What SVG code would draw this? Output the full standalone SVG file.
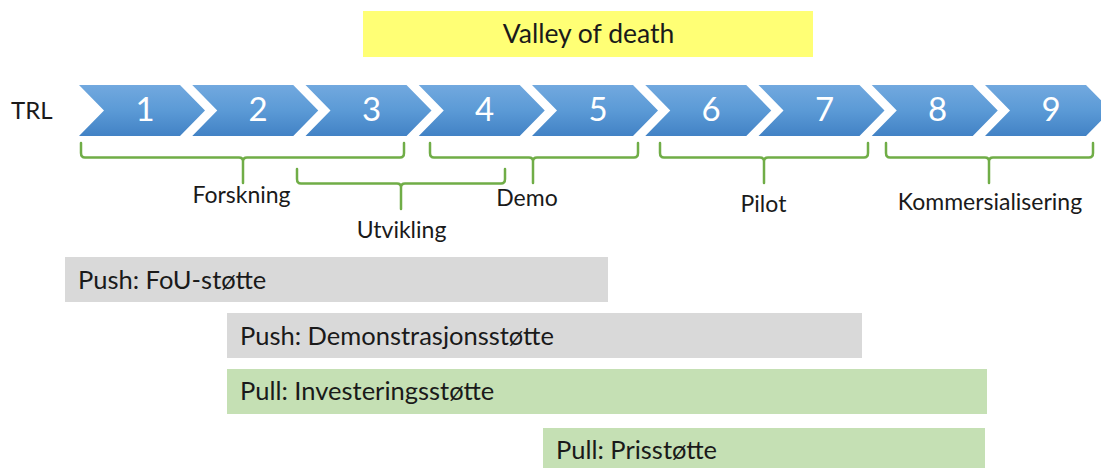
<svg xmlns="http://www.w3.org/2000/svg" width="1101" height="468" viewBox="0 0 1101 468">
  <defs>
    <linearGradient id="chevFill" x1="0" y1="0" x2="0" y2="1">
      <stop offset="0" stop-color="#72a9df"/>
      <stop offset="0.5" stop-color="#5b9ad6"/>
      <stop offset="1" stop-color="#4282c5"/>
    </linearGradient>
    <!-- one TRL step: flat back with notch, pointed front -->
    <polygon id="chev" points="0,85 101,85 126,110.5 101,136 0,136 25,110.5"/>
  </defs>
  <style>
    text { font-family: Lato, "Liberation Sans", sans-serif; fill: #1a1a1a; }
    .chev { fill: url(#chevFill); }
    .num { fill: #ffffff; font-size: 33px; text-anchor: middle; }
    .brace { fill: none; stroke: #70ad47; stroke-width: 2.5; stroke-linejoin: round; stroke-linecap: round; }
    .lbl { font-size: 23px; text-anchor: middle; }
    .bar-text { font-size: 25.5px; }
    .push { fill: #d9d9d9; }
    .pull { fill: #c5e0b4; }
  </style>

  <rect width="1101" height="468" fill="#ffffff"/>

  <g id="valley">
    <rect x="363" y="11" width="450" height="46" fill="#ffff75"/>
    <text x="588.5" y="43" font-size="26.5" text-anchor="middle">Valley of death</text>
  </g>

  <g id="trl-label">
    <text x="11" y="119" font-size="24">TRL</text>
  </g>

  <g id="trl-steps">
    <g id="trl-1"><use href="#chev" class="chev" x="79"/><text class="num" x="145" y="121">1</text></g>
    <g id="trl-2"><use href="#chev" class="chev" x="192.25"/><text class="num" x="258" y="121">2</text></g>
    <g id="trl-3"><use href="#chev" class="chev" x="305.5"/><text class="num" x="371.5" y="121">3</text></g>
    <g id="trl-4"><use href="#chev" class="chev" x="418.75"/><text class="num" x="484.5" y="121">4</text></g>
    <g id="trl-5"><use href="#chev" class="chev" x="532"/><text class="num" x="598" y="121">5</text></g>
    <g id="trl-6"><use href="#chev" class="chev" x="645.25"/><text class="num" x="711" y="121">6</text></g>
    <g id="trl-7"><use href="#chev" class="chev" x="758.5"/><text class="num" x="824.5" y="121">7</text></g>
    <g id="trl-8"><use href="#chev" class="chev" x="871.75"/><text class="num" x="937.5" y="121">8</text></g>
    <g id="trl-9"><use href="#chev" class="chev" x="985"/><text class="num" x="1051" y="121">9</text></g>
  </g>

  <g id="phase-braces">
    <path class="brace" d="M81,143 V153 Q81,157.5 85,157.5 H239 Q243,157.5 243,161.5 V183 M243,161.5 Q243,157.5 247,157.5 H400 Q404,157.5 404,153 V143"/>
    <path class="brace" d="M297,169 V179 Q297,183.5 301,183.5 H397 Q401,183.5 401,187.5 V209 M401,187.5 Q401,183.5 405,183.5 H501 Q505,183.5 505,179 V169"/>
    <path class="brace" d="M430,143 V153 Q430,157.5 434,157.5 H529 Q533,157.5 533,161.5 V183 M533,161.5 Q533,157.5 537,157.5 H634 Q638,157.5 638,153 V143"/>
    <path class="brace" d="M660,143 V153 Q660,157.5 664,157.5 H760 Q764,157.5 764,161.5 V183 M764,161.5 Q764,157.5 768,157.5 H864 Q868,157.5 868,153 V143"/>
    <path class="brace" d="M886,143 V153 Q886,157.5 890,157.5 H985 Q989,157.5 989,161.5 V183 M989,161.5 Q989,157.5 993,157.5 H1089 Q1093,157.5 1093,153 V143"/>
  </g>

  <g id="phase-labels">
    <text class="lbl" x="241.5" y="203">Forskning</text>
    <text class="lbl" x="401.5" y="238">Utvikling</text>
    <text class="lbl" x="527" y="206">Demo</text>
    <text class="lbl" x="763.5" y="212">Pilot</text>
    <text class="lbl" x="990" y="210">Kommersialisering</text>
  </g>

  <g id="bar-fou">
    <rect class="push" x="65" y="257" width="543" height="45"/>
    <text class="bar-text" x="78" y="289">Push: FoU-støtte</text>
  </g>
  <g id="bar-demo">
    <rect class="push" x="227" y="313" width="635" height="45"/>
    <text class="bar-text" x="240" y="345">Push: Demonstrasjonsstøtte</text>
  </g>
  <g id="bar-invest">
    <rect class="pull" x="227" y="369" width="760" height="45"/>
    <text class="bar-text" x="240" y="400">Pull: Investeringsstøtte</text>
  </g>
  <g id="bar-pris">
    <rect class="pull" x="543" y="428" width="442" height="40"/>
    <text class="bar-text" x="556" y="459">Pull: Prisstøtte</text>
  </g>
</svg>
